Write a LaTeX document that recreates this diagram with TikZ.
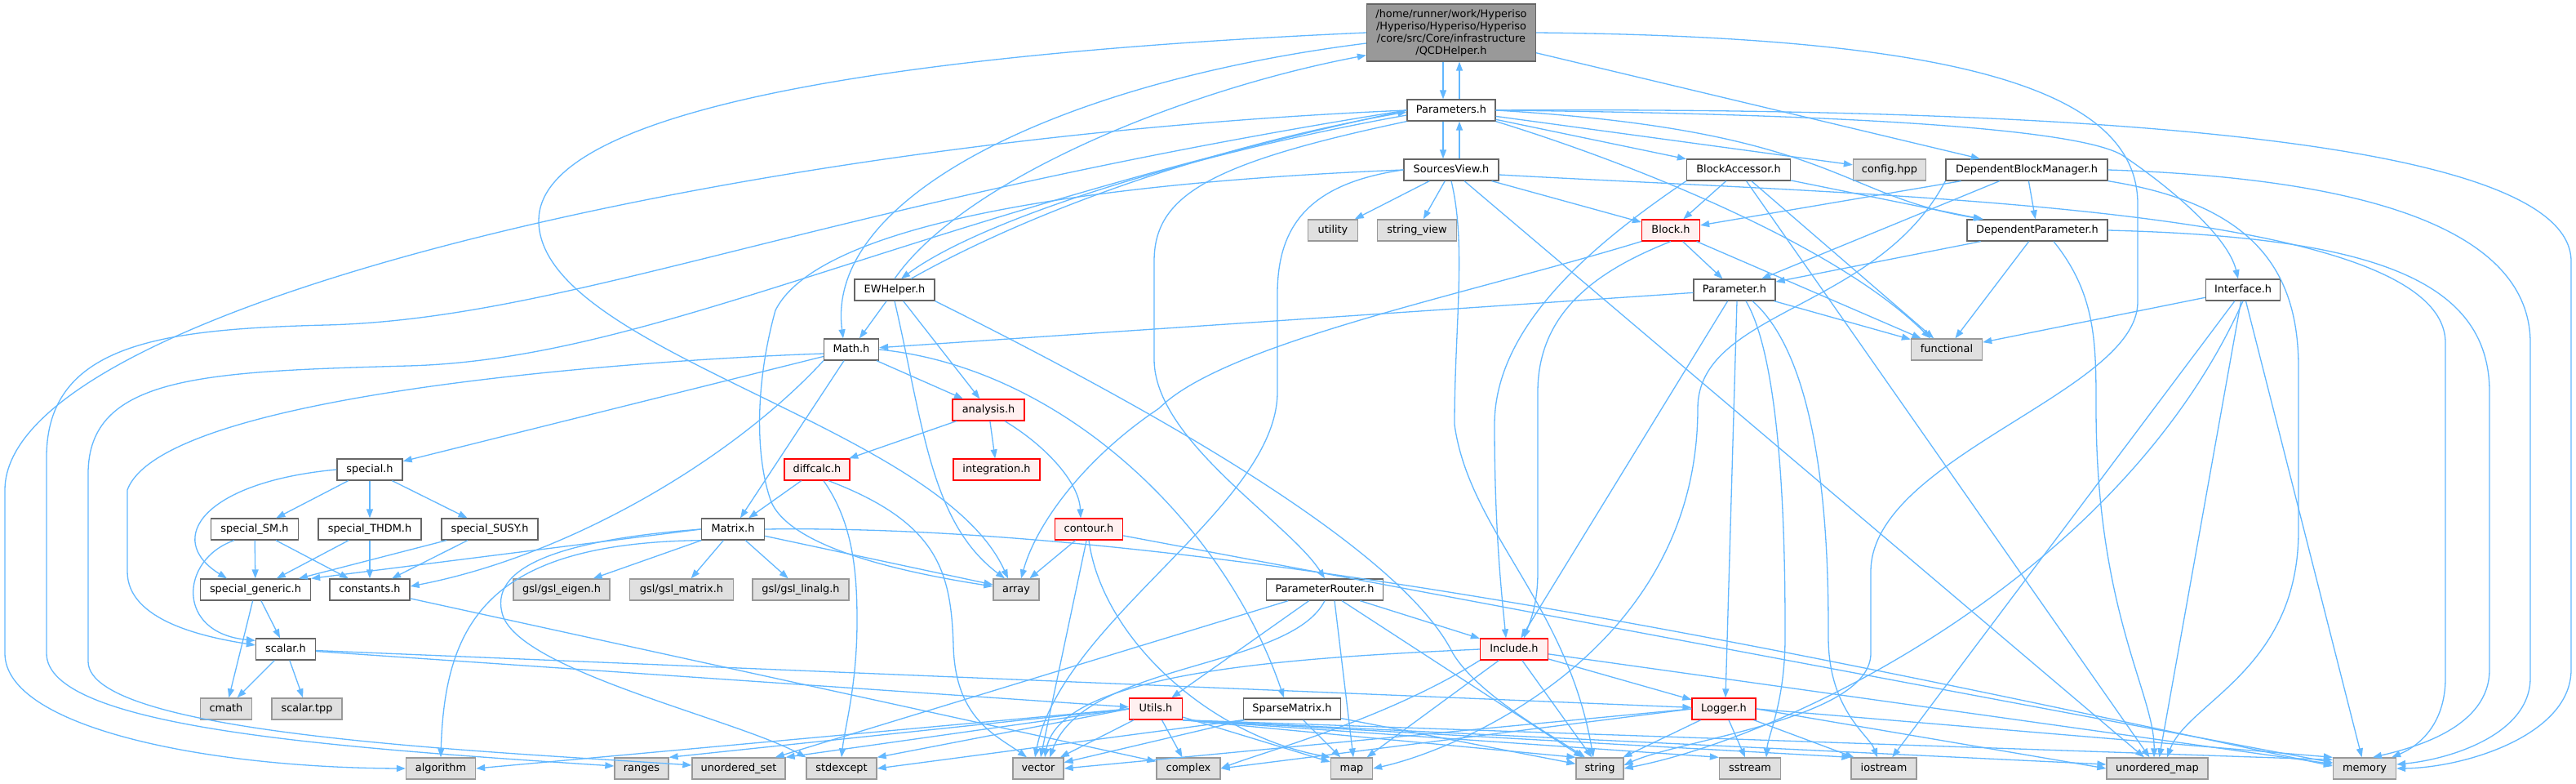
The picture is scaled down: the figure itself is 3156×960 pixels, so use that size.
\documentclass[tikz,border=0pt]{standalone}
\usepackage{fontspec}
\setmainfont{DejaVu Sans}
\usetikzlibrary{arrows.meta}
\definecolor{ecol}{HTML}{63B8FF}
\definecolor{bord}{HTML}{666666}
\definecolor{sysb}{HTML}{999999}
\definecolor{sysf}{HTML}{E0E0E0}
\definecolor{redf}{HTML}{FFF0F0}
\definecolor{rootf}{HTML}{999999}
\tikzset{
  nd/.style={draw=bord, fill=white, line width=1.3pt, inner sep=0pt, minimum height=26pt,
    text height=9.6pt, text depth=2.8pt, font=\fontsize{12.9}{15}\selectfont},
  sysnd/.style={nd, draw=sysb, fill=sysf},
  rednd/.style={nd, draw=red, fill=redf},
  rootnd/.style={draw=bord, fill=rootf, line width=1.3pt, inner sep=0pt, minimum width=207pt,
    minimum height=70pt, align=center, font=\fontsize{12.9}{15}\selectfont},
  e/.style={draw=ecol, line width=1.3pt, -{Triangle[length=11pt,width=8pt]}}
}
\begin{document}
\begin{tikzpicture}[x=1pt,y=-1pt]
\fill[white] (0,0) rectangle (3156,960);
\useasboundingbox (0,0) rectangle (3156,960);
% ---------------- nodes
\node[rootnd] (Q) at (1778,40) {/home/runner/work/Hyperiso\\/Hyperiso/Hyperiso/Hyperiso\\/core/src/Core/infrastructure\\/QCDHelper.h};
\node[nd, minimum width=108pt] (P) at (1778,135) {Parameters.h};
\node[nd, minimum width=116pt] (SV) at (1778,208) {SourcesView.h};
\node[nd, minimum width=127pt] (BA) at (2130,208) {BlockAccessor.h};
\node[sysnd, minimum width=89pt] (CFG) at (2315,208) {config.hpp};
\node[nd, minimum width=198pt] (DBM) at (2483,208) {DependentBlockManager.h};
\node[sysnd, minimum width=61pt] (UT) at (1633,282) {utility};
\node[sysnd, minimum width=97pt] (SVW) at (1736,282) {string\_view};
\node[rednd, minimum width=71pt] (BL) at (2047,282) {Block.h};
\node[nd, minimum width=172pt] (DP) at (2496,282) {DependentParameter.h};
\node[nd, minimum width=98pt] (EW) at (1096,355) {EWHelper.h};
\node[nd, minimum width=100pt] (PA) at (2125,355) {Parameter.h};
\node[nd, minimum width=91pt] (IF) at (2748,355) {Interface.h};
\node[nd, minimum width=67pt] (MA) at (1043,428) {Math.h};
\node[sysnd, minimum width=87pt] (FU) at (2385,428) {functional};
\node[rednd, minimum width=88pt] (AN) at (1211,502) {analysis.h};
\node[nd, minimum width=80pt] (SP) at (453,575) {special.h};
\node[rednd, minimum width=80pt] (DC) at (1001,575) {diffcalc.h};
\node[rednd, minimum width=106pt] (IN) at (1221,575) {integration.h};
\node[nd, minimum width=107pt] (SSM) at (312,648) {special\_SM.h};
\node[nd, minimum width=126pt] (STH) at (453,648) {special\_THDM.h};
\node[nd, minimum width=118pt] (SSU) at (600,648) {special\_SUSY.h};
\node[nd, minimum width=77pt] (MX) at (898,648) {Matrix.h};
\node[rednd, minimum width=83pt] (CT) at (1334,648) {contour.h};
\node[nd, minimum width=135pt] (SG) at (313,722) {special\_generic.h};
\node[nd, minimum width=98pt] (CO) at (453,722) {constants.h};
\node[sysnd, minimum width=118pt] (GE) at (688,722) {gsl/gsl\_eigen.h};
\node[sysnd, minimum width=127pt] (GM) at (835,722) {gsl/gsl\_matrix.h};
\node[sysnd, minimum width=118pt] (GL) at (981,722) {gsl/gsl\_linalg.h};
\node[sysnd, minimum width=56pt] (AR) at (1245,722) {array};
\node[nd, minimum width=143pt] (PR) at (1623,722) {ParameterRouter.h};
\node[nd, minimum width=73pt] (SC) at (350,795) {scalar.h};
\node[rednd, minimum width=83pt] (INC) at (1855,795) {Include.h};
\node[sysnd, minimum width=63pt] (CM) at (277,868) {cmath};
\node[sysnd, minimum width=86pt] (STP) at (376,868) {scalar.tpp};
\node[rednd, minimum width=65pt] (UTL) at (1416,868) {Utils.h};
\node[nd, minimum width=119pt] (SPM) at (1583,868) {SparseMatrix.h};
\node[rednd, minimum width=78pt] (LG) at (2112,868) {Logger.h};
\node[sysnd, minimum width=85pt] (ALG) at (540,941) {algorithm};
\node[sysnd, minimum width=66pt] (RG) at (786,941) {ranges};
\node[sysnd, minimum width=114pt] (US) at (905,941) {unordered\_set};
\node[sysnd, minimum width=86pt] (SE) at (1031,941) {stdexcept};
\node[sysnd, minimum width=62pt] (VE) at (1272,941) {vector};
\node[sysnd, minimum width=78pt] (CX) at (1456,941) {complex};
\node[sysnd, minimum width=51pt] (MP) at (1656,941) {map};
\node[sysnd, minimum width=58pt] (STR) at (1960,941) {string};
\node[sysnd, minimum width=75pt] (SS) at (2144,941) {sstream};
\node[sysnd, minimum width=80pt] (IO) at (2308,941) {iostream};
\node[sysnd, minimum width=124pt] (UM) at (2643,941) {unordered\_map};
\node[sysnd, minimum width=77pt] (ME) at (2897,941) {memory};
% ---------------- edges: QCDHelper
\draw[e] ([xshift=-10pt]Q.south) -- ([xshift=-10pt]P.north);
\draw[e] ([xshift=10pt]P.north) -- ([xshift=10pt]Q.south);
\draw[e] (Q) -- (DBM);
\draw[e] (Q.west) .. controls (1000,70) and (660,150) .. (660,270) .. controls (660,430) and (1150,520) .. ([xshift=-10pt]AR.north);
\draw[e] ([yshift=-13pt]Q.west) .. controls (1300,100) and (1010,240) .. ([xshift=-10pt]MA.north);
\draw[e] (Q.east) .. controls (2400,45) and (2619,110) .. (2619,250) -- (2619,370) .. controls (2619,480) and (2292,560) .. (2292,700) -- (2292,800) .. controls (2292,880) and (2060,905) .. ([yshift=4pt]STR.east);
\draw[e] (EW.north) .. controls (1180,220) and (1450,110) .. ([yshift=8pt]Q.south west);
% Parameters
\draw[e] ([xshift=-10pt]P.south) -- ([xshift=-10pt]SV.north);
\draw[e] ([xshift=10pt]SV.north) -- ([xshift=10pt]P.south);
\draw[e] ([yshift=-6pt]P.west) .. controls (1450,190) and (1200,270) .. ([xshift=8pt]EW.north);
\draw[e] ([xshift=20pt]EW.north) .. controls (1260,260) and (1480,180) .. ([yshift=-2pt]P.west);
\draw[e] (P) -- (BA);
\draw[e] (P) -- (CFG);
\draw[e] (P.east) .. controls (2250,160) and (2250,240) .. ([xshift=-66pt]DP.north);
\draw[e] (P.east) .. controls (2300,140) and (2550,160) .. (2600,190) .. controls (2660,230) and (2730,290) .. ([xshift=-6pt]IF.north);
\draw[e] (P.east) .. controls (2700,130) and (3150,190) .. (3150,320) -- (3150,820) .. controls (3150,900) and (3020,940) .. (ME.east);
\draw[e] (P.south east) .. controls (2000,200) and (2250,300) .. ([xshift=-20pt]FU.north);
\draw[e] (P.south west) .. controls (1480,200) and (1414,240) .. (1414,320) -- (1414,440) .. controls (1414,540) and (1580,640) .. (PR.north);
\draw[e] (P.west) .. controls (900,170) and (6,380) .. (6,600) -- (6,800) .. controls (6,890) and (250,940) .. (ALG.west);
\draw[e] (P.west) .. controls (1000,250) and (700,390) .. (400,398) .. controls (200,403) and (57,420) .. (57,560) -- (57,800) .. controls (57,890) and (400,915) .. ([yshift=3pt]RG.west);
\draw[e] (P.west) .. controls (1100,270) and (800,440) .. (500,448) .. controls (250,455) and (108,460) .. (108,580) -- (108,810) .. controls (108,900) and (600,920) .. ([yshift=4pt]US.west);
% SourcesView
\draw[e] (SV) -- (UT);
\draw[e] (SV) -- (SVW);
\draw[e] (SV) -- (BL);
\draw[e] (SV.west) .. controls (1600,225) and (1565,280) .. (1565,360) -- (1565,480) .. controls (1565,620) and (1300,760) .. ([xshift=-4pt]VE.north);
\draw[e] (SV.south) .. controls (1797,300) and (1782,400) .. (1782,520) .. controls (1800,650) and (1920,740) .. ([xshift=-8pt]STR.north);
\draw[e] (SV) -- (UM);
\draw[e] ([yshift=-6pt]SV.east) .. controls (2300,240) and (2996,250) .. (2996,420) -- (2996,830) .. controls (2996,890) and (2960,915) .. ([xshift=-6pt]ME.north east);
\draw[e] (SV.west) .. controls (1300,225) and (1000,280) .. (950,380) .. controls (925,470) and (925,560) .. (945,615) .. controls (970,670) and (1100,700) .. ([yshift=4pt]AR.west);
% BlockAccessor
\draw[e] (BA) -- (BL);
\draw[e] (BA) -- (DP);
\draw[e] (BA) -- (FU);
\draw[e] (BA) -- (UM);
\draw[e] (BA.south west) .. controls (1950,300) and (1831,400) .. (1831,520) .. controls (1831,650) and (1840,730) .. ([xshift=-10pt]INC.north);
% DependentBlockManager
\draw[e] (DBM) -- (BL);
\draw[e] (DBM) -- (DP);
\draw[e] (DBM) -- (PA);
\draw[e] (DBM.south west) .. controls (2300,380) and (2080,380) .. (2080,500) .. controls (2080,800) and (1780,920) .. (MP.east);
\draw[e] (DBM.south east) .. controls (2760,250) and (2816,330) .. (2816,450) -- (2816,650) .. controls (2816,820) and (2680,860) .. ([xshift=12pt]UM.north);
\draw[e] (DBM.east) .. controls (2950,220) and (3100,300) .. (3100,420) -- (3100,830) .. controls (3100,900) and (3000,930) .. ([yshift=5pt]ME.east);
% DependentParameter
\draw[e] (DP) -- (PA);
\draw[e] (DP) -- (FU);
\draw[e] ([xshift=20pt]DP.south) .. controls (2568,360) and (2568,420) .. (2568,500) .. controls (2568,750) and (2640,850) .. ([xshift=-4pt]UM.north);
\draw[e] (DP.east) .. controls (2900,290) and (3050,340) .. (3050,480) -- (3050,820) .. controls (3050,890) and (2960,915) .. ([xshift=10pt]ME.north);
% Block
\draw[e] (BL) -- (PA);
\draw[e] (BL.south) .. controls (1960,330) and (1884,380) .. (1884,480) -- (1884,700) .. controls (1884,740) and (1875,760) .. ([xshift=12pt]INC.north);
\draw[e] (BL) -- (FU);
\draw[e] (BL.south west) .. controls (1800,360) and (1500,420) .. (1420,500) .. controls (1330,560) and (1270,640) .. ([xshift=6pt]AR.north);
% Parameter
\draw[e] (PA) -- (MA);
\draw[e] (PA) -- (INC);
\draw[e] ([xshift=3pt]PA.south) -- ([xshift=2pt]LG.north);
\draw[e] (PA) -- (FU);
\draw[e] ([xshift=14pt]PA.south) .. controls (2187,450) and (2187,700) .. (2187,780) .. controls (2187,860) and (2166,900) .. ([xshift=20pt]SS.north);
\draw[e] ([xshift=22pt]PA.south) .. controls (2240,450) and (2240,700) .. (2240,780) .. controls (2240,870) and (2290,900) .. ([xshift=-8pt]IO.north);
% Interface
\draw[e] (IF) -- (FU);
\draw[e] (IF) -- (IO);
\draw[e] (IF.south) .. controls (2600,700) and (2200,900) .. (STR.east);
\draw[e] (IF) -- (UM);
\draw[e] (IF) -- (ME);
% Math
\draw[e] (MA) -- (SP);
\draw[e] (MA) -- (MX);
\draw[e] (MA) -- (AN);
\draw[e] ([yshift=-5pt]MA.west) .. controls (800,440) and (200,480) .. (156,600) -- (156,700) .. controls (156,760) and (250,780) .. ([yshift=5pt]SC.west);
\draw[e] (MA.south west) .. controls (900,560) and (700,680) .. ([yshift=4pt]CO.east);
\draw[e] (MA.east) .. controls (1300,450) and (1500,640) .. ([xshift=-10pt]SPM.north);
% EWHelper
\draw[e] (EW) -- (MA);
\draw[e] (EW) -- (AN);
\draw[e] (EW.south) .. controls (1131,520) and (1140,640) .. ([xshift=-14pt]AR.north);
\draw[e] (EW.south east) .. controls (1450,520) and (1720,680) .. (1780,800) .. controls (1810,850) and (1900,900) .. ([xshift=-18pt]STR.north);
% analysis
\draw[e] (AN) -- (DC);
\draw[e] (AN) -- (IN);
\draw[e] ([xshift=20pt]AN.south) .. controls (1280,545) and (1322,590) .. ([xshift=-10pt]CT.north);
% diffcalc
\draw[e] (DC) -- (MX);
\draw[e] ([xshift=8pt]DC.south) .. controls (1045,640) and (1050,700) .. (1050,760) .. controls (1050,840) and (1035,890) .. (SE.north);
\draw[e] ([xshift=14pt]DC.south) .. controls (1150,640) and (1165,700) .. (1168,790) .. controls (1170,880) and (1220,900) .. ([xshift=-14pt]VE.north);
% Matrix
\draw[e] (MX.west) -- (SG.north east);
\draw[e] (MX) -- (GE);
\draw[e] (MX) -- (GM);
\draw[e] (MX) -- (GL);
\draw[e] (MX) -- (AR);
\draw[e] (MX.south west) .. controls (600,665) and (545,760) .. (ALG.north);
\draw[e] (MX.west) .. controls (700,660) and (600,690) .. (615,750) .. controls (630,820) and (900,880) .. (SE.north west);
\draw[e] (MX.east) .. controls (1500,640) and (2300,820) .. ([yshift=3pt]ME.west);
% contour
\draw[e] (CT) -- (AR);
\draw[e] (CT) -- (VE);
\draw[e] (CT.south) .. controls (1350,780) and (1480,900) .. (MP.north west);
\draw[e] (CT) -- (ME);
% special
\draw[e] (SP) -- (SSM);
\draw[e] (SP) -- (STH);
\draw[e] (SP) -- (SSU);
\draw[e] (SP.west) .. controls (250,590) and (200,660) .. ([xshift=-35pt]SG.north);
\draw[e] (SSM) -- (SG);
\draw[e] (SSM) -- (CO);
\draw[e] ([xshift=-25pt]SSM.south) .. controls (220,685) and (215,775) .. ([yshift=-3pt]SC.north west);
\draw[e] (STH) -- (SG);
\draw[e] (STH) -- (CO);
\draw[e] (SSU) -- (SG);
\draw[e] (SSU) -- (CO);
\draw[e] (SG) -- (SC);
\draw[e] (SG) -- (CM);
\draw[e] (CO) -- (CX);
% scalar
\draw[e] (SC) -- (CM);
\draw[e] (SC) -- (STP);
\draw[e] (SC) -- (UTL);
\draw[e] (SC) -- (LG);
% ParameterRouter
\draw[e] (PR) -- (INC);
\draw[e] (PR) -- (UTL);
\draw[e] ([xshift=12pt]PR.south) -- ([xshift=2pt]MP.north);
\draw[e] (PR) -- (STR);
\draw[e] (PR) -- (US);
\draw[e] (PR.south) .. controls (1580,820) and (1330,810) .. ([xshift=14pt]VE.north);
% Include
\draw[e] (INC) -- (LG);
\draw[e] (INC) -- (MP);
\draw[e] (INC) -- (STR);
\draw[e] (INC.south west) .. controls (1700,880) and (1550,920) .. (CX.east);
\draw[e] (INC.west) .. controls (1600,805) and (1300,820) .. ([xshift=8pt]VE.north);
\draw[e] (INC) -- (ME);
% Utils
\draw[e] (UTL) -- (VE);
\draw[e] (UTL) -- (CX);
\draw[e] (UTL) -- (MP);
\draw[e] (UTL.south east) -- (STR.north west);
\draw[e] (UTL.south east) -- (SS.north west);
\draw[e] (UTL.south east) -- (IO.north west);
\draw[e] (UTL.south east) -- ([yshift=5pt]UM.west);
\draw[e] (UTL.south east) -- ([yshift=-3pt]ME.north west);
\draw[e] (UTL.west) -- (ALG.east);
\draw[e] (UTL.west) -- (US.north east);
\draw[e] (UTL.west) -- (RG.north east);
\draw[e] (UTL.west) -- (SE.north east);
% SparseMatrix
\draw[e] (SPM) -- (VE);
\draw[e] (SPM) -- (MP);
\draw[e] (SPM.south west) -- (SE.east);
\draw[e] (SPM) -- (STR);
% Logger
\draw[e] (LG) -- (SS);
\draw[e] (LG) -- (IO);
\draw[e] (LG) -- (STR);
\draw[e] (LG.east) -- (UM.west);
\draw[e] (LG.east) -- (ME.north west);
\draw[e] (LG.west) -- (VE.east);
\draw[e] (LG.west) -- (CX.east);
\end{tikzpicture}
\end{document}
